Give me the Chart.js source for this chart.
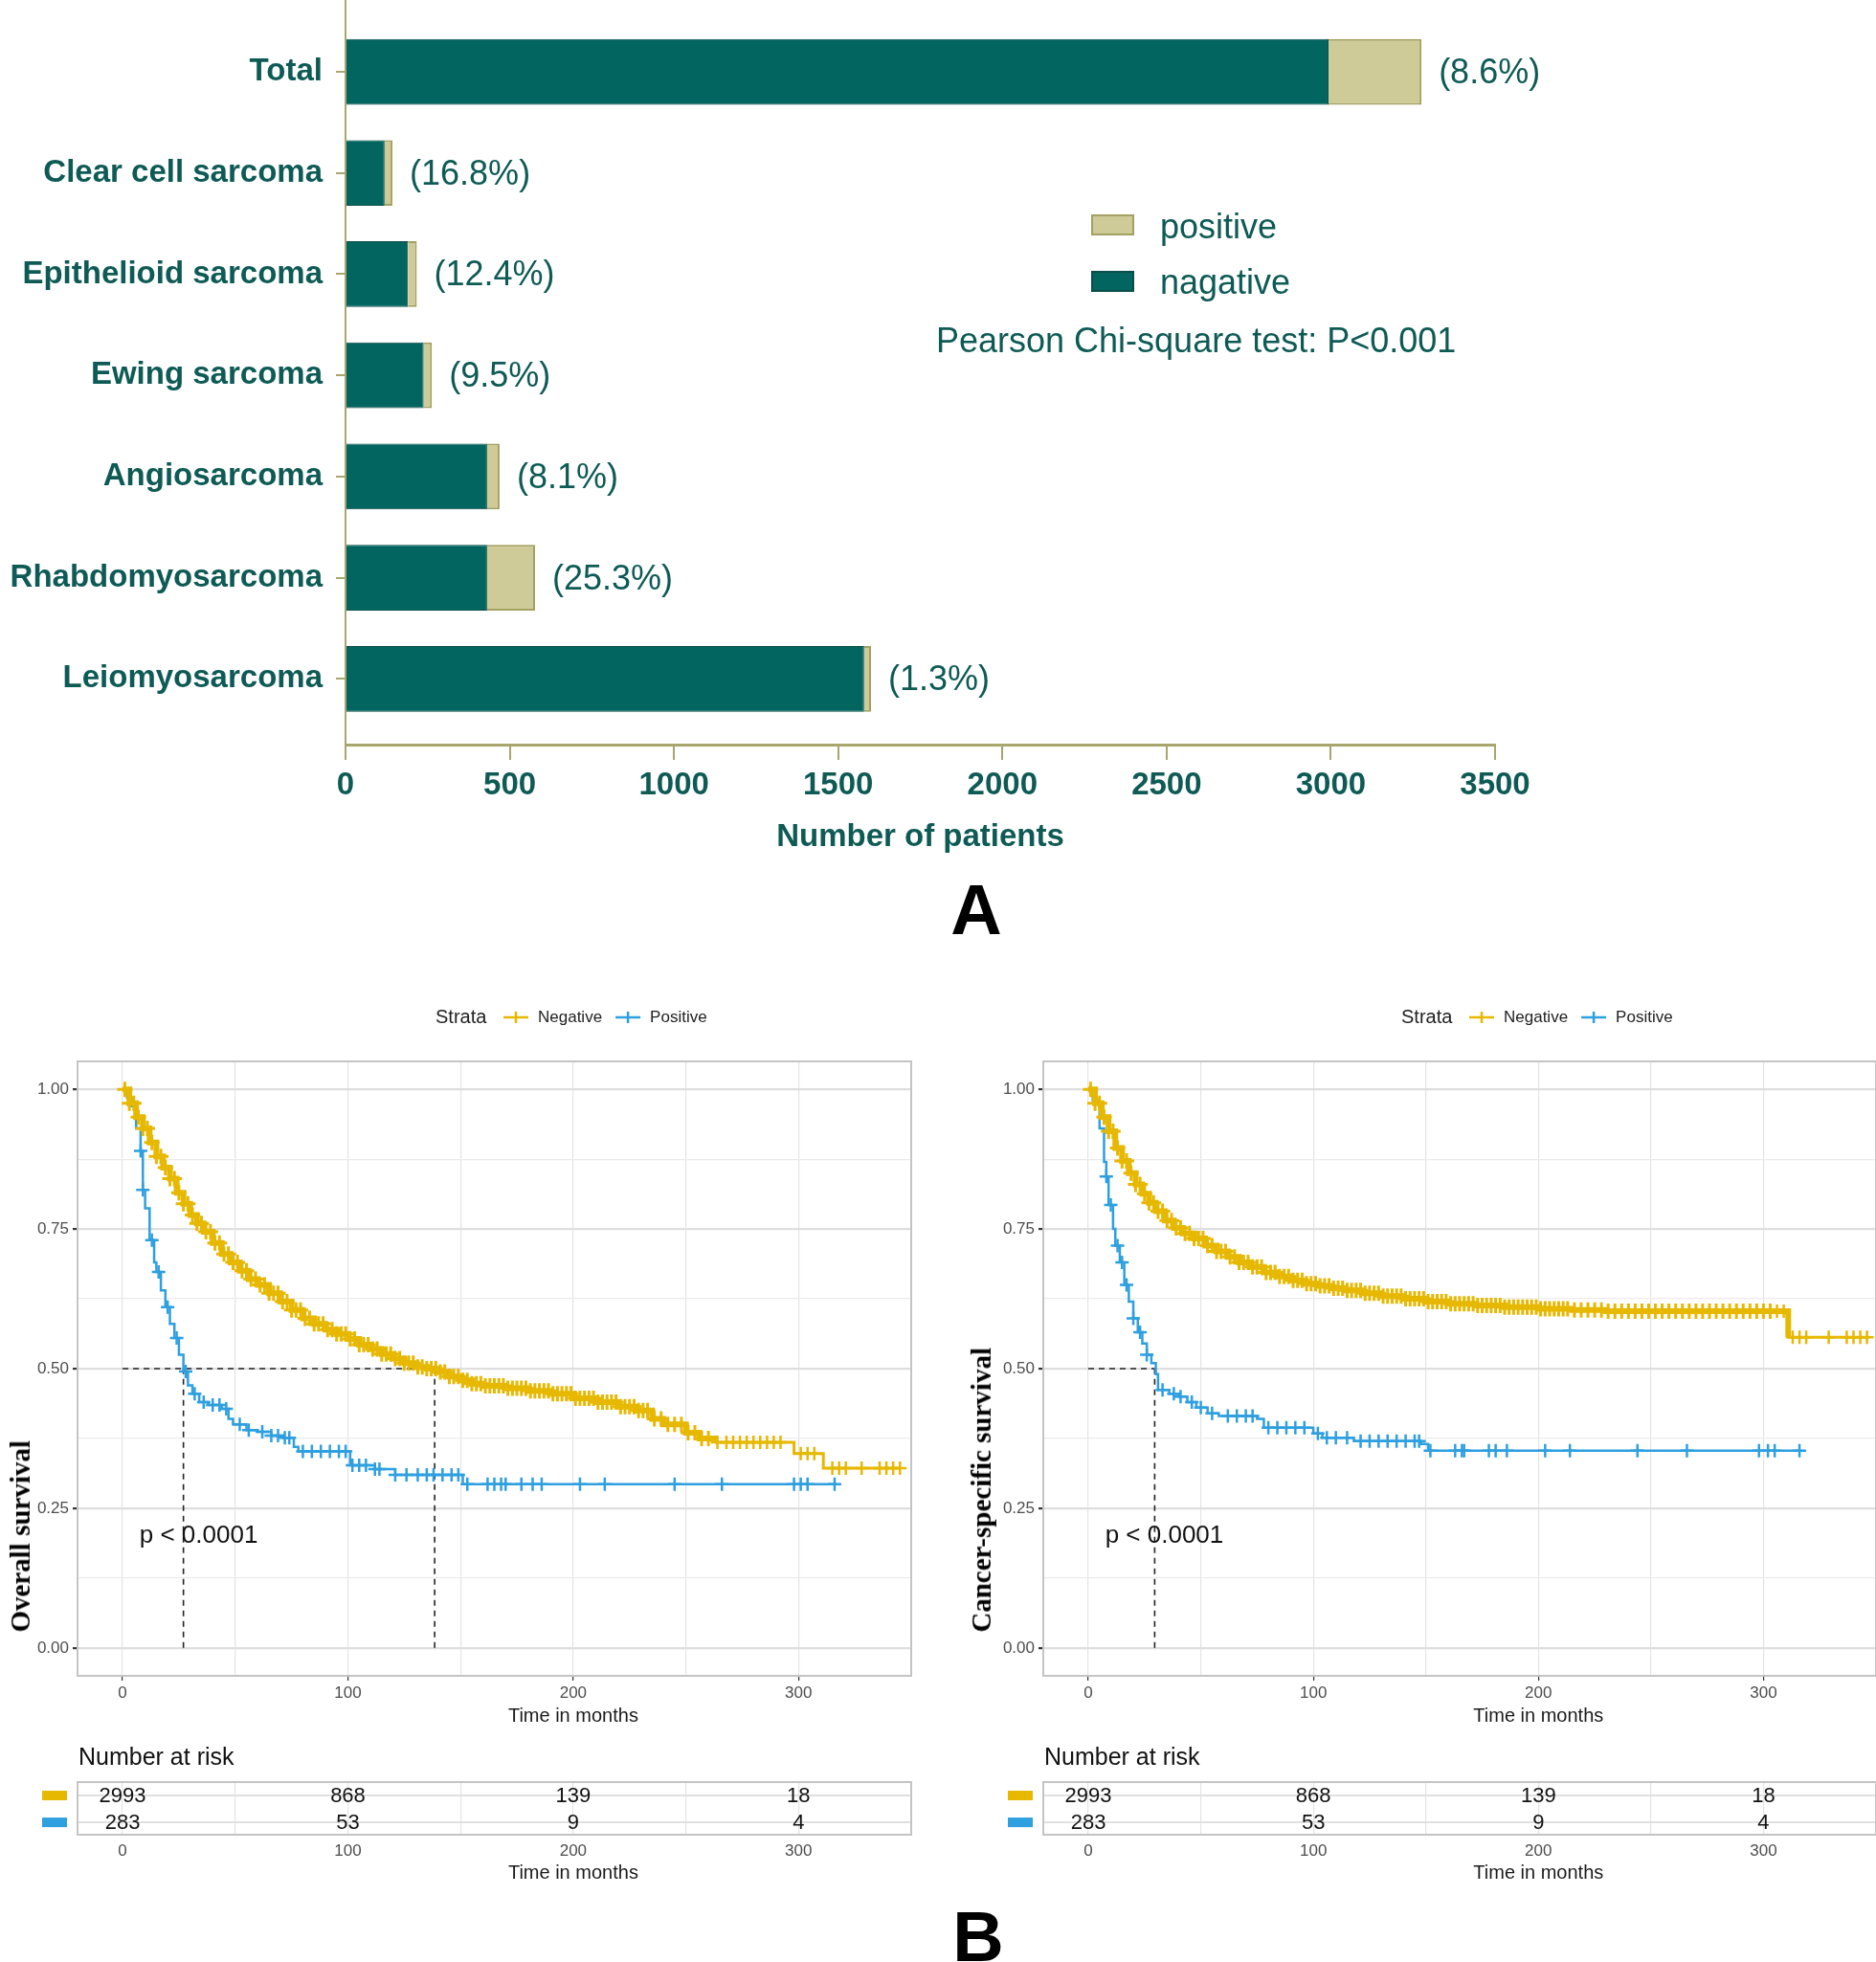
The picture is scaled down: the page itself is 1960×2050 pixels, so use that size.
<!DOCTYPE html>
<html>
<head>
<meta charset="utf-8">
<script src="https://cdn.jsdelivr.net/npm/chart.js@4.4.0/dist/chart.umd.min.js"></script>
<style>
  body { margin: 0; background: #fff; }
  #page { position: relative; width: 1960px; height: 2050px; overflow: hidden; font-family: "Liberation Sans", Arial, sans-serif; }
  canvas { position: absolute; }
  .txt { position: absolute; white-space: nowrap; }
  .swatch { position: absolute; width: 41px; height: 18px; }
  .panel-letter { position: absolute; font-weight: bold; font-size: 74px; line-height: 74px; color: #000; transform: translateX(-50%); }
  .ytitle { position: absolute; font-family: "Liberation Serif", "Times New Roman", serif; font-weight: bold; font-size: 29px; line-height: 34px; writing-mode: vertical-rl; transform: rotate(180deg); color: #000; white-space: nowrap; }
</style>
</head>
<body>
<div id="page">
  <canvas id="barChart" width="1960" height="900" style="left:0;top:0"></canvas>

  <div class="swatch" style="left:1140px;top:224px;background:#CFCB99;border:2px solid #A3A060"></div>
  <div class="txt" style="left:1212px;top:217px;font-size:36px;line-height:40px;color:#0E5A54">positive</div>
  <div class="swatch" style="left:1140px;top:283px;background:#02655F;border:2px solid #0A4E4A"></div>
  <div class="txt" style="left:1212px;top:275px;font-size:36px;line-height:40px;color:#0E5A54">nagative</div>
  <div class="txt" style="left:978px;top:336px;font-size:36px;line-height:40px;color:#0E5A54">Pearson Chi-square test: P&lt;0.001</div>
  <div class="panel-letter" style="left:1020px;top:914px">A</div>

  <canvas id="osChart" width="980" height="780" style="left:0;top:1030px"></canvas>
  <canvas id="cssChart" width="980" height="780" style="left:980px;top:1030px"></canvas>
  <canvas id="osRisk" width="980" height="170" style="left:0;top:1815px"></canvas>
  <canvas id="cssRisk" width="980" height="170" style="left:980px;top:1815px"></canvas>

  <div class="ytitle" style="left:4px;bottom:344px">Overall survival</div>
  <div class="ytitle" style="left:1008px;bottom:344px">Cancer-specific survival</div>
  <div class="panel-letter" style="left:1022px;top:1987px">B</div>
</div>

<script>
const FONT = '"Liberation Sans", Arial, sans-serif';

// ---------- Panel A data ----------
const categories = ['Total', 'Clear cell sarcoma', 'Epithelioid sarcoma', 'Ewing sarcoma', 'Angiosarcoma', 'Rhabdomyosarcoma', 'Leiomyosarcoma'];
const negativeCounts = [2993, 119, 190, 238, 431, 431, 1579];
const positiveCounts = [283, 24, 27, 25, 38, 146, 21];
const positiveShare = ['8.6%', '16.8%', '12.4%', '9.5%', '8.1%', '25.3%', '1.3%'];
const countTicks = [0, 500, 1000, 1500, 2000, 2500, 3000, 3500];

// ---------- Panel B data ----------
const monthTicks = [0, 100, 200, 300];
const monthGrid = [0, 50, 100, 150, 200, 250, 300];
const survTicks = [0, 0.25, 0.5, 0.75, 1];
const survGrid = [0, 0.125, 0.25, 0.375, 0.5, 0.625, 0.75, 0.875, 1];

// overall survival, step times (months) and survival after each step
const osNegTime = [0, 3, 6, 9, 12, 15, 18, 21, 24, 27, 30, 33, 36, 40, 44, 48, 52, 56, 60, 65, 70, 75, 80, 85, 90, 95, 100, 105, 110, 115, 120, 125, 130, 135, 140, 145, 150, 155, 160, 170, 180, 190, 200, 210, 220, 228, 235, 240, 250, 256, 263, 298, 311, 345];
const osNegSurv = [1, .975, .95, .93, .905, .88, .86, .84, .815, .795, .775, .76, .745, .725, .705, .69, .675, .66, .65, .635, .62, .605, .59, .58, .57, .562, .553, .543, .535, .526, .518, .51, .503, .5, .494, .486, .479, .473, .469, .465, .46, .455, .447, .44, .432, .425, .41, .40, .385, .375, .368, .348, .322, .322];
const osNegCensor = [1, 3, 5, 7, 9, 11, 13, 15, 17, 19, 21, 23, 25, 27, 29, 31, 33, 35, 37, 39, 41, 43, 45, 47, 49, 51, 53, 55, 57, 59, 61, 63, 65, 67, 69, 71, 73, 75, 77, 79, 81, 83, 85, 87, 89, 91, 93, 95, 97, 99, 101, 103, 105, 107, 109, 111, 113, 115, 117, 119, 121, 123, 125, 127, 129, 131, 133, 135, 137, 139, 141, 143, 145, 147, 149, 151, 153, 155, 157, 159, 161, 163, 165, 167, 169, 171, 173, 175, 177, 179, 181, 183, 185, 187, 189, 191, 193, 195, 197, 199, 201, 203, 205, 207, 209, 211, 213, 215, 217, 219, 221, 223, 225, 227, 229, 231, 233, 236, 239, 242, 245, 248, 251, 254, 257, 260, 264, 268, 271, 274, 277, 280, 283, 286, 289, 292, 301, 304, 307, 315, 318, 321, 328, 336, 339, 342, 345];
const osPosTime = [0, 2, 4, 6, 8, 9, 10, 12, 14, 15, 17, 19, 21, 23, 25, 27, 29, 31, 34, 38, 44, 47, 49, 55, 60, 66, 71, 76, 78, 101, 112, 121, 151, 317];
const osPosSurv = [1, .985, .97, .93, .89, .82, .787, .73, .69, .673, .64, .61, .58, .555, .525, .495, .47, .455, .44, .435, .428, .41, .40, .39, .387, .38, .376, .36, .352, .327, .32, .31, .293, .293];
const osPosCensor = [8, 9, 13, 16, 20, 24, 28, 32, 36, 40, 43, 46, 52, 56, 62, 66, 69, 72, 74, 80, 84, 88, 92, 96, 99, 102, 105, 108, 112, 114, 121, 126, 131, 135, 138, 142, 146, 149, 153, 162, 165, 168, 170, 177, 182, 186, 203, 214, 245, 266, 298, 301, 304, 316];
const osMedians = [138.5, 27];

// cancer-specific survival
const cssNegTime = [0, 3, 6, 9, 12, 15, 18, 21, 24, 27, 30, 34, 38, 42, 47, 52, 57, 62, 67, 72, 78, 84, 90, 96, 102, 108, 114, 122, 130, 140, 150, 160, 172, 185, 200, 215, 230, 311, 347];
const cssNegSurv = [1, .975, .95, .925, .895, .872, .85, .83, .813, .797, .782, .765, .752, .742, .733, .72, .71, .70, .69, .682, .672, .665, .658, .652, .648, .644, .64, .635, .63, .625, .62, .616, .613, .61, .607, .605, .603, .556, .556];
const cssNegCensor = [1, 3, 5, 7, 9, 11, 13, 15, 17, 19, 21, 23, 25, 27, 29, 31, 33, 35, 37, 39, 41, 43, 45, 47, 49, 51, 53, 55, 57, 59, 61, 63, 65, 67, 69, 71, 73, 75, 77, 79, 81, 83, 85, 87, 89, 91, 93, 95, 97, 99, 101, 103, 105, 107, 109, 111, 113, 115, 117, 119, 121, 123, 125, 127, 129, 131, 133, 135, 137, 139, 141, 143, 145, 147, 149, 151, 153, 155, 157, 159, 161, 163, 165, 167, 169, 171, 173, 175, 177, 179, 181, 183, 185, 187, 189, 191, 193, 195, 197, 199, 201, 203, 205, 207, 209, 211, 213, 216, 219, 222, 225, 228, 231, 234, 237, 240, 243, 246, 249, 252, 255, 258, 261, 264, 267, 270, 273, 276, 279, 282, 285, 288, 291, 294, 297, 300, 303, 306, 309, 313, 316, 319, 329, 337, 340, 343, 346];
const cssPosTime = [0, 2, 5, 7, 8, 9, 11, 12, 14, 16, 18, 20, 22, 24, 26, 28, 30, 31, 36, 40, 44, 48, 53, 58, 75, 78, 100, 104, 118, 148, 151, 317];
const cssPosSurv = [1, .98, .93, .87, .844, .793, .75, .72, .69, .65, .62, .59, .565, .545, .525, .51, .49, .462, .455, .45, .44, .43, .42, .415, .41, .394, .384, .376, .37, .365, .353, .353];
const cssPosCensor = [8, 10, 13, 15, 17, 20, 23, 26, 33, 38, 41, 46, 50, 55, 62, 66, 70, 73, 80, 84, 88, 92, 96, 102, 106, 110, 115, 121, 125, 129, 133, 137, 141, 145, 147, 152, 163, 166, 167, 178, 181, 186, 203, 214, 244, 266, 298, 302, 305, 316];
const cssMedians = [29.5];

// number at risk
const riskTimes = [0, 100, 200, 300];
const riskNeg = [2993, 868, 139, 18];
const riskPos = [283, 53, 9, 4];

const TEAL = '#02655F', BEIGE = '#CFCB99', OLIVE = '#A8A66C', INK = '#0E5A54';
const NEG = '#E7B800', POS = '#2E9FDF';

// ---------- Panel A: stacked bars ----------
const shareLabels = {
  id: 'shareLabels',
  afterDatasetsDraw(chart) {
    const ctx = chart.ctx;
    ctx.save();
    ctx.font = `36px ${FONT}`;
    ctx.fillStyle = INK;
    ctx.textAlign = 'left';
    ctx.textBaseline = 'middle';
    chart.getDatasetMeta(1).data.forEach((bar, i) => {
      ctx.fillText('(' + positiveShare[i] + ')', bar.x + 18, bar.y + 2);
    });
    ctx.restore();
  }
};

new Chart(document.getElementById('barChart'), {
  type: 'bar',
  data: {
    datasets: [
      { label: 'nagative', data: negativeCounts.map((v, i) => ({ x: v, y: i })), backgroundColor: TEAL, borderColor: '#0A4E4A', borderWidth: 1, categoryPercentage: 1, barPercentage: 0.65 },
      { label: 'positive', data: positiveCounts.map((v, i) => ({ x: v, y: i })), backgroundColor: BEIGE, borderColor: '#A3A060', borderWidth: 2, categoryPercentage: 1, barPercentage: 0.65 },
    ],
  },
  options: {
    indexAxis: 'y',
    responsive: false,
    animation: false,
    layout: { padding: { top: 0, right: 398, bottom: 0, left: 0 } },
    plugins: { legend: { display: false }, tooltip: { enabled: false } },
    scales: {
      y: {
        type: 'linear', reverse: true, min: -0.71, max: 6.65, stacked: true, offset: false,
        afterBuildTicks: s => { s.ticks = categories.map((_, i) => ({ value: i })); },
        afterFit: s => { s.width = 361; s.paddingTop = 0; s.paddingBottom = 0; },
        ticks: { callback: v => categories[v], font: { family: FONT, size: 33, weight: 'bold' }, color: INK, padding: 14, autoSkip: false },
        grid: { offset: false, drawOnChartArea: false, drawTicks: true, tickLength: 10, color: OLIVE, lineWidth: 2 },
        border: { color: OLIVE, width: 2 },
      },
      x: {
        type: 'linear', min: 0, max: 3500, stacked: true,
        afterBuildTicks: s => { s.ticks = countTicks.map(v => ({ value: v })); },
        afterFit: s => { s.height = 122; },
        ticks: { callback: v => String(v), font: { family: FONT, size: 33, weight: 'bold' }, color: INK, padding: 7, autoSkip: false, maxRotation: 0 },
        grid: { drawOnChartArea: false, drawTicks: true, tickLength: 16, color: OLIVE, lineWidth: 2 },
        border: { color: OLIVE, width: 3 },
        title: { display: true, text: 'Number of patients', font: { family: FONT, size: 33, weight: 'bold' }, color: INK, padding: { top: 4, bottom: 5 } },
      },
    },
  },
  plugins: [shareLabels],
});

// ---------- Panel B: Kaplan-Meier curves ----------
function survAt(times, surv, t) {
  let s = surv[0];
  times.forEach((tt, i) => { if (tt <= t) s = surv[i]; });
  return s;
}
const stepPoints = (times, surv) => times.map((t, i) => ({ x: t, y: surv[i] }));
const censorPoints = (times, surv, marks) => marks.map(t => ({ x: t, y: survAt(times, surv, t) }));

function drawPanelBox(ctx, a) {
  ctx.strokeStyle = '#C4C4C4';
  ctx.lineWidth = 2;
  ctx.strokeRect(a.left, a.top, a.right - a.left, a.bottom - a.top);
}
function drawTimeTitle(ctx, x, yPix) {
  ctx.fillStyle = '#1A1A1A';
  ctx.font = `20px ${FONT}`;
  ctx.textAlign = 'center';
  ctx.textBaseline = 'middle';
  ctx.fillText('Time in months', x.getPixelForValue(200), yPix);
}

const kmDecor = {
  id: 'kmDecor',
  afterDraw(chart) {
    const { ctx, chartArea: a, scales: { x, y } } = chart;
    ctx.save();
    drawPanelBox(ctx, a);
    drawTimeTitle(ctx, x, 763);

    ctx.fillStyle = '#111';
    ctx.font = `26px ${FONT}`;
    ctx.textAlign = 'left';
    ctx.textBaseline = 'middle';
    ctx.fillText('p < 0.0001', x.getPixelForValue(7.5), y.getPixelForValue(0.2));

    // strata legend
    const ly = 33;
    let cx = a.left + 374;
    ctx.font = `20px ${FONT}`;
    ctx.fillStyle = '#222';
    ctx.fillText('Strata', cx, ly);
    cx += 71;
    ctx.font = `17px ${FONT}`;
    [['Negative', NEG], ['Positive', POS]].forEach(([label, color]) => {
      ctx.strokeStyle = color;
      ctx.lineWidth = 2.5;
      ctx.beginPath();
      ctx.moveTo(cx, ly); ctx.lineTo(cx + 26, ly);
      ctx.moveTo(cx + 13, ly - 6); ctx.lineTo(cx + 13, ly + 6);
      ctx.stroke();
      ctx.fillStyle = '#222';
      ctx.fillText(label, cx + 36, ly);
      cx += 36 + ctx.measureText(label).width + 14;
    });
    ctx.restore();
  }
};

function kmChart(id, negT, negS, negC, posT, posS, posC, medians, denseUntil, yWidth, padRight) {
  const medLine = [{ x: 0, y: 0.5 }, { x: Math.max(...medians), y: 0.5 }];
  const medDrops = medians.map(m => ({
    data: [{ x: m, y: 0 }, { x: m, y: 0.5 }],
    borderColor: '#222', borderWidth: 1.6, borderDash: [6, 5], pointRadius: 0, showLine: true,
  }));
  const majorX = c => c.tick && monthTicks.includes(c.tick.value);
  const majorY = c => c.tick && survTicks.includes(c.tick.value);
  new Chart(document.getElementById(id), {
    type: 'scatter',
    data: {
      datasets: [
        { data: censorPoints(negT, negS, negC), showLine: false, pointStyle: 'cross', borderColor: NEG,
          pointRadius: c => (c.raw && c.raw.x < denseUntil ? 8 : 7), borderWidth: c => (c.raw && c.raw.x < denseUntil ? 3 : 2.5) },
        { data: stepPoints(negT, negS), showLine: true, stepped: true, borderColor: NEG, borderWidth: 3, pointRadius: 0,
          segment: { borderWidth: c => (c.p0.parsed.x < denseUntil ? 6 : 3) } },
        { data: censorPoints(posT, posS, posC), showLine: false, pointStyle: 'cross', pointRadius: 7, borderColor: POS, borderWidth: 2.5 },
        { data: stepPoints(posT, posS), showLine: true, stepped: true, borderColor: POS, borderWidth: 2.5, pointRadius: 0 },
        { data: medLine, borderColor: '#222', borderWidth: 1.6, borderDash: [6, 5], pointRadius: 0, showLine: true },
        ...medDrops,
      ],
    },
    options: {
      responsive: false,
      animation: false,
      layout: { autoPadding: false, padding: { top: 79, right: padRight, bottom: 0, left: 0 } },
      plugins: { legend: { display: false }, tooltip: { enabled: false } },
      scales: {
        x: {
          type: 'linear', min: -20, max: 350,
          afterBuildTicks: s => { s.ticks = monthGrid.map(v => ({ value: v })); },
          afterFit: s => { s.height = 59; s.paddingLeft = 0; s.paddingRight = 0; },
          ticks: { callback: v => (monthTicks.includes(v) ? v : ''), font: { family: FONT, size: 17 }, color: '#4D4D4D', padding: 3, autoSkip: false, maxRotation: 0 },
          grid: { color: '#E4E4E4', lineWidth: 1.2, tickLength: 5, tickColor: c => (majorX(c) ? '#333' : 'rgba(0,0,0,0)') },
          border: { display: false },
        },
        y: {
          type: 'linear', min: -0.05, max: 1.05,
          afterBuildTicks: s => { s.ticks = survGrid.map(v => ({ value: v })); },
          afterFit: s => { s.width = yWidth; s.paddingTop = 0; s.paddingBottom = 0; },
          ticks: { callback: v => (survTicks.includes(v) ? v.toFixed(2) : ''), font: { family: FONT, size: 17 }, color: '#4D4D4D', padding: 4, autoSkip: false },
          grid: { color: c => (majorY(c) ? '#DEDEDE' : '#EBEBEB'), lineWidth: c => (majorY(c) ? 2.2 : 1.2), tickLength: 5, tickColor: c => (majorY(c) ? '#333' : 'rgba(0,0,0,0)') },
          border: { display: false },
        },
      },
    },
    plugins: [kmDecor],
  });
}

kmChart('osChart', osNegTime, osNegSurv, osNegCensor, osPosTime, osPosSurv, osPosCensor, osMedians, 262, 81, 28);
kmChart('cssChart', cssNegTime, cssNegSurv, cssNegCensor, cssPosTime, cssPosSurv, cssPosCensor, cssMedians, 305, 110, 0);

// ---------- Number at risk tables ----------
const riskDecor = {
  id: 'riskDecor',
  afterDraw(chart) {
    const { ctx, chartArea: a, scales: { x, y } } = chart;
    ctx.save();
    drawPanelBox(ctx, a);
    drawTimeTitle(ctx, x, 142);
    ctx.font = `22px ${FONT}`;
    ctx.textAlign = 'center';
    ctx.textBaseline = 'middle';
    [[riskNeg, NEG], [riskPos, POS]].forEach(([vals, color], d) => {
      ctx.fillStyle = '#111';
      chart.getDatasetMeta(d).data.forEach((pt, j) => ctx.fillText(String(vals[j]), pt.x, pt.y + 1));
      ctx.fillStyle = color;
      ctx.fillRect(a.left - 37, y.getPixelForValue(d + 1) - 5, 26, 10);
    });
    ctx.fillStyle = '#111';
    ctx.font = `25px ${FONT}`;
    ctx.textAlign = 'left';
    ctx.fillText('Number at risk', a.left + 1, 22);
    ctx.restore();
  }
};

function riskChart(id, yWidth, padRight) {
  new Chart(document.getElementById(id), {
    type: 'scatter',
    data: {
      datasets: [
        { data: riskTimes.map(t => ({ x: t, y: 1 })), pointRadius: 0 },
        { data: riskTimes.map(t => ({ x: t, y: 2 })), pointRadius: 0 },
      ],
    },
    options: {
      responsive: false,
      animation: false,
      layout: { autoPadding: false, padding: { top: 47, right: padRight, bottom: 0, left: 0 } },
      plugins: { legend: { display: false }, tooltip: { enabled: false } },
      scales: {
        x: {
          type: 'linear', min: -20, max: 350,
          afterBuildTicks: s => { s.ticks = monthGrid.map(v => ({ value: v })); },
          afterFit: s => { s.height = 68; s.paddingLeft = 0; s.paddingRight = 0; },
          ticks: { callback: v => (monthTicks.includes(v) ? v : ''), font: { family: FONT, size: 17 }, color: '#4D4D4D', padding: 7, autoSkip: false, maxRotation: 0 },
          grid: { color: '#E4E4E4', lineWidth: 1.2, drawTicks: false },
          border: { display: false },
        },
        y: {
          type: 'linear', reverse: true, min: 0.5, max: 2.46,
          afterBuildTicks: s => { s.ticks = [{ value: 1 }, { value: 2 }]; },
          afterFit: s => { s.width = yWidth; },
          ticks: { display: false },
          grid: { color: '#E0E0E0', lineWidth: 2, drawTicks: false },
          border: { display: false },
        },
      },
    },
    plugins: [riskDecor],
  });
}

riskChart('osRisk', 81, 28);
riskChart('cssRisk', 110, 0);
</script>
</body>
</html>
